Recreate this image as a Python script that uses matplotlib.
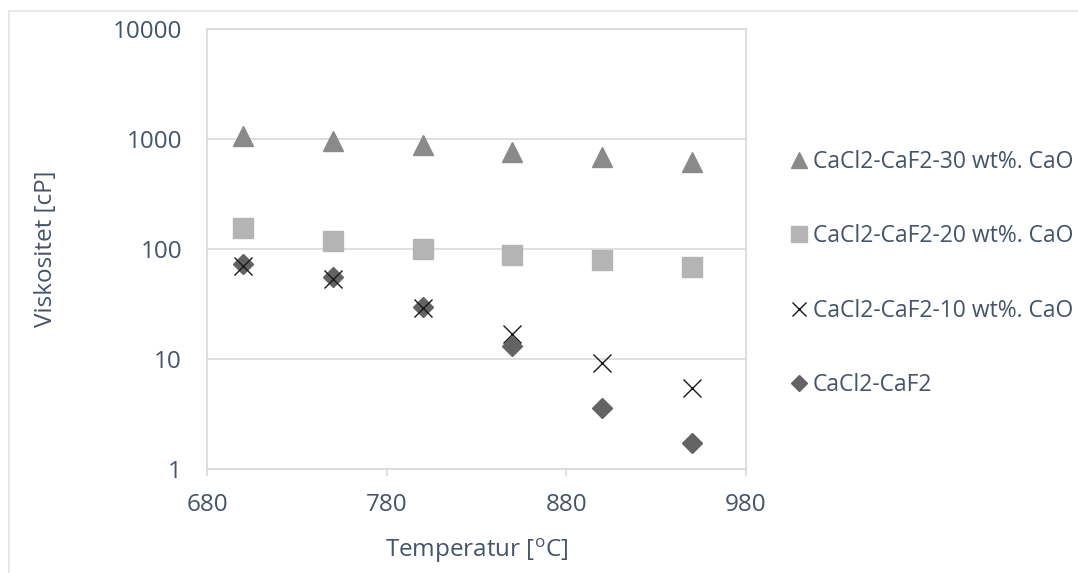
import matplotlib
matplotlib.use("Agg")
import matplotlib.pyplot as plt
from matplotlib.patches import Rectangle

plt.rcParams['font.family'] = ['Open Sans', 'DejaVu Sans']

# data
temp = [700, 750, 800, 850, 900, 950]
visc_30 = [1060, 960, 875, 757, 680, 615]
visc_20 = [155, 118, 99, 89, 80, 69]
visc_10 = [70, 53, 28.8, 17, 9.2, 5.5]
visc_0 = [73, 56, 30, 13.1, 3.57, 1.73]

labels = ["CaCl2-CaF2-30 wt%. CaO", "CaCl2-CaF2-20 wt%. CaO",
          "CaCl2-CaF2-10 wt%. CaO", "CaCl2-CaF2"]
xticks = [680, 780, 880, 980]
yticks = [1, 10, 100, 1000, 10000]

txt = '#44546A'
grid = '#D9D9D9'
fs = 17.5

fig = plt.figure(figsize=(10.78, 5.73), dpi=100)
W, H = 1078, 573
ax = fig.add_axes([207 / W, 1 - 469 / H, (746 - 207) / W, (469 - 29) / H])

# outer chart border (cropped at right/bottom like the reference)
fig.patches.append(Rectangle((9 / W, -0.05), 1.2, 1 - 11 / H + 0.05,
                             transform=fig.transFigure, fill=False,
                             edgecolor='#E3E3E3', lw=1.2))

ax.plot(temp, visc_30, ls='none', marker='^', ms=15, color='#8A8A8A', label=labels[0], zorder=3)
ax.plot(temp, visc_20, ls='none', marker='s', ms=14.5, color='#B4B4B4', label=labels[1], zorder=3)
ax.plot(temp, visc_10, ls='none', marker='x', ms=13.5, mew=1.0, color='#1A1A1A', label=labels[2], zorder=4)
ax.plot(temp, visc_0, ls='none', marker='D', ms=10.3, color='#636363', label=labels[3], zorder=3)

ax.set_yscale('log')
ax.set_xlim(680, 980)
ax.set_ylim(1, 10000)
ax.set_xticks(xticks)
ax.set_xticklabels([str(v) for v in xticks])
ax.set_yticks(yticks)
ax.set_yticklabels([str(v) for v in yticks])
ax.minorticks_off()
ax.yaxis.grid(True, color=grid, lw=1.2)
ax.set_axisbelow(True)
for s in ax.spines.values():
    s.set_color(grid)
    s.set_linewidth(1.2)
ax.tick_params(axis='x', length=5, width=1.2, color=grid, pad=12, labelsize=fs, labelcolor=txt)
ax.tick_params(axis='y', length=0, pad=18, labelsize=fs, labelcolor=txt)

ax.set_xlabel("Temperatur [$^\\mathregular{o}$C]", fontsize=fs, color=txt, labelpad=14)
ax.set_ylabel("Viskositet [cP]", fontsize=fs, color=txt, labelpad=39)

leg = fig.legend(loc='upper left', bbox_to_anchor=(792 / W, 1 - 150 / H), frameon=False,
                 fontsize=16.5, labelcolor=txt, handlelength=0.6, handletextpad=0.3,
                 labelspacing=2.2, markerscale=0.75, borderaxespad=0, borderpad=0)

fig.savefig("out.png", dpi=100)
